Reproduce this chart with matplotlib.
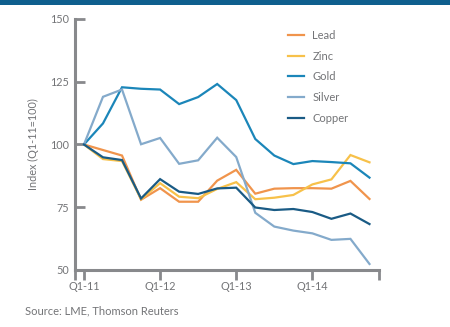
import numpy as np
import matplotlib
matplotlib.use("Agg")
import matplotlib.pyplot as plt

plt.rcParams["font.family"] = ["Lato", "DejaVu Sans"]

# quarterly index, Q1-11 = 100
quarters = np.arange(16)
tick_labels = ["Q1-11", "Q1-12", "Q1-13", "Q1-14"]

lead = [100, 97.8, 95.6, 78.0, 82.6, 77.2, 77.2, 85.6, 89.9, 80.4, 82.4, 82.6, 82.6, 82.4, 85.5, 78.3]
zinc = [100, 94.2, 93.4, 78.2, 84.6, 79.2, 78.6, 82.3, 85.0, 78.2, 78.8, 79.9, 84.1, 86.1, 95.8, 92.9]
gold = [100, 108.4, 122.8, 122.2, 121.9, 116.1, 118.9, 124.1, 117.7, 102.2, 95.6, 92.2, 93.4, 93.0, 92.5, 86.8]
silver = [100, 119.0, 121.9, 100.1, 102.6, 92.3, 93.7, 102.7, 95.0, 72.8, 67.3, 65.7, 64.6, 62.0, 62.4, 52.4]
copper = [100, 94.9, 93.8, 78.5, 86.2, 81.2, 80.3, 82.5, 82.8, 74.9, 73.9, 74.3, 73.1, 70.4, 72.5, 68.3]

series = [
    ("Lead", lead, "#f0944c"),
    ("Zinc", zinc, "#f7c14a"),
    ("Gold", gold, "#1b86b9"),
    ("Silver", silver, "#84aacb"),
    ("Copper", copper, "#1a5b85"),
]

grey = "#88898c"
text_grey = "#737477"

fig = plt.figure(figsize=(4.5, 3.27), dpi=100)
fig.patch.set_facecolor("white")

# banner strip along the top edge
fig.add_artist(plt.Rectangle((0, 1 - 5 / 327), 1, 5 / 327, transform=fig.transFigure,
                             color="#0f5f8e", lw=0))

ax = fig.add_axes([75 / 450, 57 / 327, 304 / 450, 251 / 327])

for name, vals, col in series:
    ax.plot(quarters, vals, color=col, lw=1.6, label=name, solid_joinstyle="miter")

ax.set_xlim(-0.47, 15.5)
ax.set_ylim(50, 150)

for side in ["top", "right"]:
    ax.spines[side].set_visible(False)
for side in ["left", "bottom"]:
    ax.spines[side].set_color(grey)
    ax.spines[side].set_linewidth(2.2)

ax.set_yticks([50, 75, 100, 125, 150])
ax.tick_params(axis="y", direction="in", length=7, width=2, color=grey,
               labelsize=7.8, labelcolor=text_grey, pad=4)

ax.set_xticks([-0.47, 0, 4, 8, 12, 15.5])
ax.set_xticklabels([""] + tick_labels + [""])
ax.tick_params(axis="x", direction="out", length=7, width=2, color=grey,
               labelsize=7.8, labelcolor=text_grey, pad=1)

ax.set_ylabel("Index (Q1-11=100)", fontsize=7.8, color=text_grey, labelpad=8)

leg = ax.legend(loc="upper left", bbox_to_anchor=(0.70, 0.957), frameon=False,
                fontsize=8, handlelength=1.45, handletextpad=0.75,
                labelspacing=0.88, borderpad=0, borderaxespad=0)
for t in leg.get_texts():
    t.set_color(text_grey)

fig.text(25 / 450, 1 - 311 / 327, "Source: LME, Thomson Reuters", fontsize=8,
         color=text_grey, va="center", ha="left")

fig.savefig("out.png", dpi=100, facecolor="white")
